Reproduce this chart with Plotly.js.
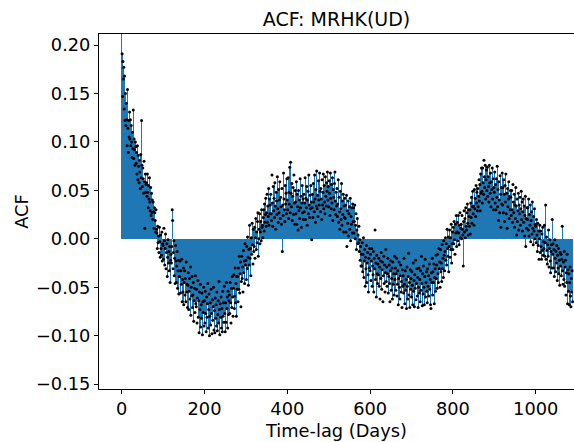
<!DOCTYPE html>
<html>
<head>
<meta charset="utf-8">
<script src="https://cdn.plot.ly/plotly-3.0.1.min.js"></script>
<style>html,body{margin:0;padding:0;background:#fff;}#chart{width:574px;height:442px;}</style>
</head>
<body>
<div id="chart"></div>
<script>
// ACF value at each lag (lag 0, 1, 2, ... days)
const acf = [
1.0,.191,.147,.183,.165,.177,.134,.168,.122,.15,.117,.14,.123,.096,.154,.114,.089,.122,.105,.131,
.103,.123,.096,.117,.1,.084,.11,.093,.133,.083,.103,.092,.076,.1,.095,.078,.089,.067,.096,.061,
.086,.075,.058,.081,.069,.052,.087,.063,.122,.076,.054,.073,.062,.047,.08,.059,.011,.067,.048,.056,
.058,.044,.067,.048,.032,.055,.041,.063,.038,.029,.053,.024,.047,.027,.04,.02,.038,.028,.011,.032,
.027,.019,.007,.03,.01,.006,-.01,.013,-.004,.003,-.014,.012,-.003,-.019,.004,-.01,-.017,.007,-.023,-.005,
-.007,-.021,.011,-.002,-.027,-.01,.005,-.031,-.014,-.005,-.039,-.019,-.001,-.025,-.013,-.033,-.008,-.045,-.022,-.016,
-.025,-.008,.03,.019,-.031,-.014,-.002,-.038,-.02,-.046,-.007,-.023,-.045,-.028,-.013,-.051,-.033,-.022,-.057,-.039,
-.039,-.023,-.056,-.033,-.047,-.021,-.065,-.042,-.055,-.03,-.068,-.045,-.033,-.058,-.041,-.065,-.024,-.055,-.047,-.071,
-.048,-.035,-.073,-.054,-.041,-.062,-.029,-.079,-.05,-.059,-.039,-.071,-.058,-.045,-.085,-.064,-.051,-.076,-.038,-.067,
-.07,-.052,-.087,-.061,-.043,-.081,-.064,-.097,-.055,-.073,-.047,-.091,-.068,-.082,-.056,-.099,-.065,-.076,-.05,-.09,
-.064,-.087,-.054,-.077,-.096,-.06,-.081,-.067,-.046,-.092,-.073,-.057,-.1,-.08,-.066,-.089,-.052,-.077,-.098,-.063,
-.084,-.07,-.05,-.094,-.074,-.097,-.061,-.082,-.068,-.09,-.055,-.095,-.078,-.064,-.087,-.044,-.073,-.099,-.067,-.081,
-.06,-.092,-.072,-.096,-.054,-.08,-.066,-.086,-.049,-.077,-.096,-.066,-.086,-.045,-.072,-.06,-.092,-.054,-.078,-.064,
-.058,-.077,-.045,-.066,-.087,-.051,-.071,-.039,-.06,-.08,-.051,-.037,-.072,-.059,-.03,-.066,-.046,-.08,-.039,-.052,
-.039,-.065,-.03,-.052,-.018,-.056,-.036,-.024,-.07,-.044,-.018,-.041,-.029,-.055,-.012,-.035,-.023,-.046,-.005,-.027,
-.022,-.042,-.008,-.031,.002,-.019,-.048,-.011,-.027,.014,-.02,-.01,-.038,.001,-.016,.016,-.006,-.026,.01,-.013,
-.008,.012,-.02,.001,.021,-.011,.007,-.004,.018,.027,-.018,0,.01,.026,-.005,.007,.018,-.002,.03,.012,
.014,.001,.022,.03,.008,.036,.017,.025,.042,.013,.027,.046,.017,.034,.023,.052,.014,.041,.026,.035,
.046,.026,.019,.066,.037,.013,.054,.029,.042,.022,.058,.034,.01,.048,.039,.025,.064,.031,.017,.051,
.027,.04,.059,.021,.043,.033,.015,.052,-.013,.035,.024,.068,.041,.03,.018,.055,.036,.047,.026,.062,
.04,.03,.063,.021,.048,.036,.074,.027,.079,.047,.033,.057,.019,.044,.053,.025,.066,.037,.015,.05,
.038,.026,.059,.015,.046,.033,.009,.05,.029,.04,.021,.062,.032,.044,.012,.037,.055,.027,.041,.02,
.046,.028,.037,.063,.02,.042,.032,.054,.014,.04,.049,.026,.066,.035,.022,.045,.031,.055,.038,-.001,
.032,.046,.022,.057,.038,.028,.066,.041,.017,.051,.034,.07,.031,.045,.023,.06,.04,.035,.068,.049,
.028,.052,.041,.02,.061,.035,.048,.067,.031,.055,.038,.026,.064,.044,.034,.058,.049,.069,.04,.054,
.033,.06,.047,.024,.068,.042,.031,.056,.037,.063,.019,.051,.043,.03,.057,.069,.039,.025,.048,.034,
.052,.023,.036,.061,.017,.043,.028,.01,.049,.031,.02,.057,.014,.039,.025,.046,.007,.034,.022,.042,
.021,.035,.007,.045,-.008,.029,.016,.039,.003,.026,.033,.01,.042,-.002,.023,.015,.032,.006,.036,.018,
.032,.006,.018,.035,0,.014,.026,-.011,.009,.021,-.005,.004,-.004,.013,-.013,-.001,-.022,-.008,-.028,-.016,
-.028,-.004,-.034,-.016,.001,-.04,-.023,-.011,-.049,-.019,-.031,-.007,-.045,-.025,-.014,-.037,-.055,-.02,-.03,-.01,
-.033,-.016,-.043,-.023,-.01,-.049,-.028,-.037,-.013,-.055,-.02,-.031,.009,-.042,-.025,-.06,-.017,-.036,-.046,-.026,
-.037,-.02,-.049,-.029,-.062,-.023,-.041,-.014,-.052,-.032,-.024,-.065,-.038,-.018,-.046,-.027,-.055,-.035,-.011,-.044,
-.029,-.049,-.036,-.02,-.056,-.039,-.027,-.046,-.065,-.033,-.023,-.053,-.041,-.03,-.062,-.024,-.047,-.036,-.058,-.018,
-.042,-.03,-.053,-.036,-.02,-.059,-.047,-.033,-.068,-.041,-.024,-.05,-.062,-.038,-.027,-.055,-.044,-.071,-.032,-.049,
-.038,-.056,-.02,-.047,-.067,-.033,-.053,-.042,-.072,-.029,-.049,-.062,-.039,-.015,-.058,-.045,-.071,-.032,-.052,-.041,
-.06,-.034,-.048,-.068,-.025,-.054,-.043,-.07,-.037,-.051,-.022,-.063,-.046,-.031,-.059,-.04,-.071,-.05,-.03,-.056,
-.042,-.065,-.033,-.053,-.018,-.046,-.069,-.036,-.057,-.028,-.05,-.068,-.039,-.021,-.06,-.045,-.034,-.054,-.066,-.031,
-.049,-.038,-.059,-.026,-.052,-.042,-.068,-.072,-.035,-.045,-.02,-.058,-.034,-.045,-.026,-.067,-.04,-.031,-.054,-.017,
-.041,-.027,-.051,-.016,-.036,-.045,-.01,-.031,-.024,-.05,-.011,-.034,-.025,-.044,-.006,-.031,-.02,-.04,-.002,-.017,
-.033,-.013,.001,-.022,-.005,-.027,.01,-.01,-.018,.002,-.034,-.008,.009,-.019,.001,-.011,.015,-.025,-.005,.007,
-.011,.012,-.005,.018,-.001,-.016,.015,.006,.024,-.008,.007,.017,-.002,.024,.006,-.006,.014,.027,.001,.011,
.015,0,.024,.01,.004,-.028,.018,.029,.007,.021,.001,.032,.013,.009,.027,.036,.016,.004,.03,.023,
.013,.03,.005,.037,.022,.043,.016,.033,.049,.026,.034,.014,.051,.031,.042,.023,.055,.037,.048,.029,
.052,.033,.044,.061,.039,.056,.029,.067,.047,.073,.049,.037,.073,.058,.046,.081,.064,.053,.076,.041,
.061,.071,.05,.074,.044,.064,.054,.038,.076,.058,.047,.068,.033,.059,.051,.073,.041,.062,.03,.053,
.048,.069,.037,.056,.03,.062,.043,.075,.033,.051,.019,.059,.04,.027,.065,.046,.012,.053,.036,.068,
.035,.053,.027,.061,.046,.018,.055,.038,.067,.026,.047,.011,.052,.033,.041,.059,.021,.044,.03,.05,
.043,.024,.05,.03,.017,.056,.038,.027,.046,.012,.035,.021,.053,.034,.004,.041,.018,.029,.047,.009,
.035,.026,.043,.014,.031,.049,.02,.038,.008,.028,.041,.017,.034,.003,.024,.044,-.008,.021,.011,.032,
.02,.032,.009,.041,.003,.025,.014,.035,-.003,.019,.028,.005,.038,.011,-.006,.023,.008,.031,0,.015,
.013,-.004,.02,.004,-.013,.016,-.007,.008,-.021,0,.014,-.014,.008,-.008,-.021,.005,-.012,.012,-.017,-.003,
-.01,.014,-.018,-.004,.035,-.021,.002,-.012,-.026,-.006,-.018,.009,-.029,-.01,-.001,-.023,-.035,-.013,-.006,-.03,
.02,-.016,-.005,-.03,-.011,-.039,-.001,-.02,-.034,-.013,-.025,-.007,-.043,-.017,-.03,-.01,-.036,-.022,-.048,-.014,
-.028,-.016,-.038,-.021,.013,-.033,-.047,-.024,-.042,-.013,-.049,-.029,-.022,-.058,-.035,-.045,-.016,-.067,-.032,-.054,
-.036,-.068,-.045,-.029,-.059,-.07,-.041,-.055,-.033,-.065
];
const firstLag = 0;   // lag of the first value (days)
const lagStep = 1;    // days between successive lags
const xTicks = [0, 200, 400, 600, 800, 1000];
const yTicks = [-0.15, -0.10, -0.05, 0.00, 0.05, 0.10, 0.15, 0.20];

const fontFam = 'DejaVu Sans, sans-serif';
const traces = [
  {type: 'bar', y: acf, x0: firstLag, dx: lagStep, width: 2,
   marker: {color: '#1f77b4', line: {width: 0}}, hoverinfo: 'skip'},
  {type: 'scatter', mode: 'markers', y: acf, x0: firstLag, dx: lagStep,
   marker: {color: '#000000', size: 3}, hoverinfo: 'skip'}
];
const layout = {
  width: 574, height: 442,
  margin: {l: 99, r: 0, t: 34, b: 53},
  paper_bgcolor: '#ffffff', plot_bgcolor: '#ffffff',
  showlegend: false,
  font: {family: fontFam, size: 17.8, color: '#000000'},
  title: {text: 'ACF: MRHK(UD)', font: {family: fontFam, size: 19, color: '#000000'},
          x: 0.5, xref: 'paper', xanchor: 'center', y: 0.956, yref: 'container', yanchor: 'middle'},
  xaxis: {range: [-54.8, 1092.5], tickvals: xTicks, ticktext: xTicks.map(String),
          ticks: 'outside', ticklen: 4, tickwidth: 1, tickcolor: '#000',
          tickfont: {size: 17.8},
          showline: true, linecolor: '#000', linewidth: 1, mirror: true,
          showgrid: false, zeroline: false,
          title: {text: 'Time-lag (Days)', font: {size: 17.8}, standoff: 6}},
  yaxis: {range: [-0.155, 0.2114], tickvals: yTicks, tickformat: '.2f',
          ticks: 'outside', ticklen: 4, tickwidth: 1, tickcolor: '#000',
          tickfont: {size: 17.8},
          showline: true, linecolor: '#000', linewidth: 1,
          showgrid: false, zeroline: false,
          title: {text: 'ACF', font: {size: 17.8}, standoff: 2}},
  bargap: 0
};
Plotly.newPlot('chart', traces, layout, {staticPlot: true, displayModeBar: false});
</script>
</body>
</html>
